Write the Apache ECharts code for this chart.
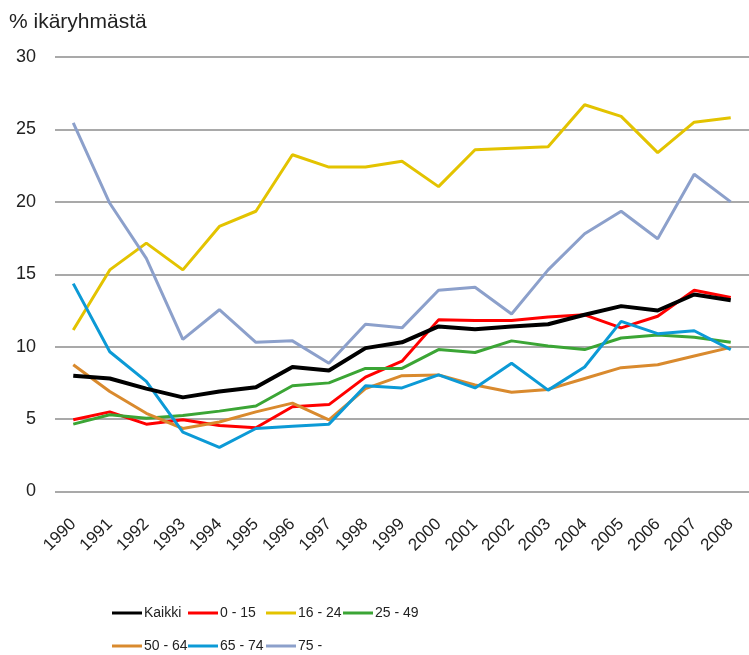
<!DOCTYPE html>
<html>
<head>
<meta charset="utf-8">
<script src="https://cdn.jsdelivr.net/npm/echarts@6/dist/echarts.min.js"></script>
<style>
  html, body { margin: 0; padding: 0; background: #fff; }
  #chart { width: 749px; height: 655px; }
</style>
</head>
<body>
<div id="chart"></div>
<script>
var years = ['1990', '1991', '1992', '1993', '1994', '1995', '1996', '1997', '1998', '1999',
  '2000', '2001', '2002', '2003', '2004', '2005', '2006', '2007', '2008'];

var kaikki = [8.0, 7.8, 7.1, 6.5, 6.9, 7.2, 8.6, 8.35, 9.9, 10.3, 11.4, 11.2, 11.4, 11.55, 12.2, 12.8, 12.5, 13.6, 13.2];
var age0_15 = [4.95, 5.5, 4.65, 4.95, 4.55, 4.4, 5.85, 6.0, 7.9, 9.0, 11.85, 11.8, 11.8, 12.05, 12.2, 11.3, 12.1, 13.9, 13.4];
var age16_24 = [11.15, 15.3, 17.15, 15.3, 18.3, 19.35, 23.25, 22.4, 22.4, 22.8, 21.05, 23.6, 23.7, 23.8, 26.7, 25.9, 23.4, 25.5, 25.8];
var age25_49 = [4.65, 5.3, 5.05, 5.25, 5.55, 5.9, 7.3, 7.5, 8.5, 8.5, 9.8, 9.6, 10.4, 10.05, 9.8, 10.6, 10.8, 10.65, 10.3];
var age50_64 = [8.75, 6.9, 5.4, 4.35, 4.8, 5.5, 6.1, 4.95, 7.1, 8.0, 8.05, 7.35, 6.85, 7.05, 7.8, 8.55, 8.75, 9.35, 9.95];
var age65_74 = [14.35, 9.65, 7.6, 4.1, 3.05, 4.35, 4.5, 4.65, 7.3, 7.15, 8.05, 7.15, 8.85, 7.0, 8.6, 11.75, 10.9, 11.1, 9.8];
var age75 = [25.45, 19.9, 16.1, 10.5, 12.55, 10.3, 10.4, 8.85, 11.55, 11.3, 13.9, 14.1, 12.25, 15.3, 17.8, 19.35, 17.45, 21.9, 20.0];

var yTicks = [0, 5, 10, 15, 20, 25, 30];

var chart = echarts.init(document.getElementById('chart'));
var font = 'Liberation Sans, Arial, sans-serif';

function line(name, data, color, width) {
  return {
    name: name,
    type: 'line',
    data: data,
    symbol: 'none',
    lineStyle: { color: color, width: width },
    itemStyle: { color: color },
    z: name == 'Kaikki' ? 3 : 2
  };
}

// excel style legend: fixed slots, so one legend per item
var legendNames = ['Kaikki', '0 - 15', '16 - 24', '25 - 49', '50 - 64', '65 - 74', '75 -'];
var slotX = [112, 188, 266, 343];
var legends = legendNames.map(function (name, i) {
  return {
    left: slotX[i % 4],
    top: i < 4 ? 606 : 639,
    padding: 0,
    itemWidth: 30,
    itemHeight: 3,
    icon: 'rect',
    data: [name],
    textStyle: { fontFamily: font, fontSize: 14, color: '#222', padding: [0, 0, 0, -3] }
  };
});

chart.setOption({
  animation: false,
  title: {
    text: '% ikäryhmästä',
    left: 9,
    top: 12,
    padding: 0,
    textStyle: { fontFamily: font, fontSize: 21, fontWeight: 'normal', color: '#222' }
  },
  legend: legends,
  grid: { left: 55, top: 57, width: 697, height: 434.5, containLabel: false },
  xAxis: {
    type: 'category',
    data: years,
    boundaryGap: true,
    axisLine: { show: false },
    axisTick: { show: false },
    axisLabel: { rotate: 45, margin: 30, fontFamily: font, fontSize: 17, color: '#222', interval: 0 }
  },
  yAxis: {
    type: 'value',
    min: yTicks[0],
    max: yTicks[yTicks.length - 1],
    interval: 5,
    axisLine: { show: false },
    axisTick: { show: false },
    axisLabel: { margin: 19, fontFamily: font, fontSize: 18, color: '#222' },
    splitLine: { lineStyle: { color: '#8c8c8c', width: 1.5 } }
  },
  series: [
    line('Kaikki', kaikki, '#000000', 4),
    line('0 - 15', age0_15, '#ff0000', 3),
    line('16 - 24', age16_24, '#e3c300', 3),
    line('25 - 49', age25_49, '#3ba535', 3),
    line('50 - 64', age50_64, '#d98a2e', 3),
    line('65 - 74', age65_74, '#0c9ad6', 3),
    line('75 -', age75, '#8ca0cb', 3)
  ]
});
</script>
</body>
</html>
